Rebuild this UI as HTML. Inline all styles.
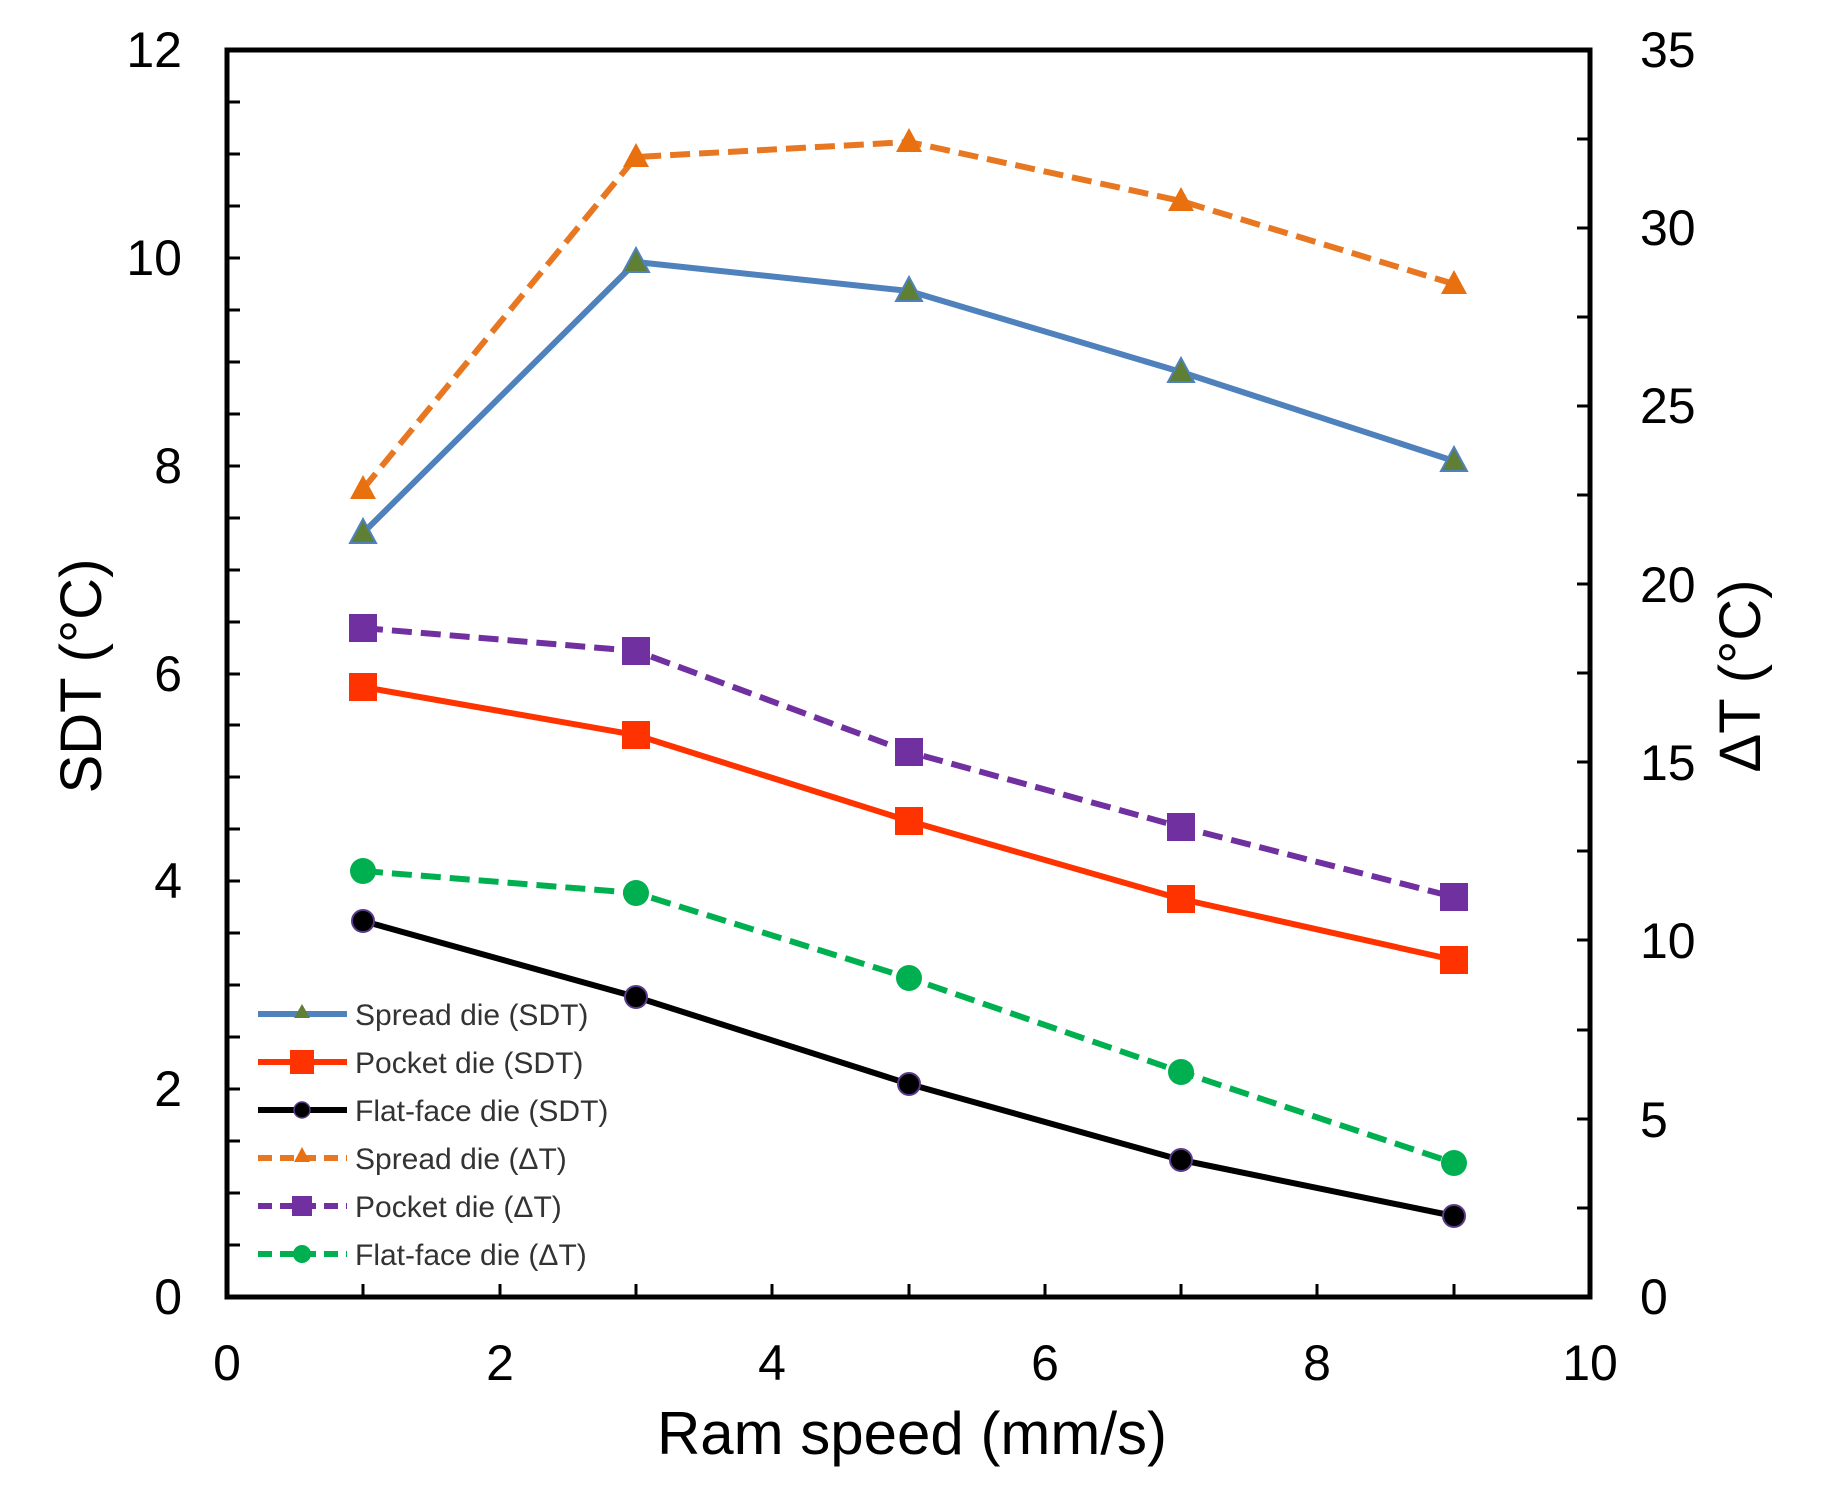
<!DOCTYPE html>
<html><head><meta charset="utf-8"><style>
html,body{margin:0;padding:0;background:#fff;}
svg{display:block;}
text{font-family:"Liberation Sans",Arial,sans-serif;}
</style></head><body>
<svg width="1833" height="1490" viewBox="0 0 1833 1490" xmlns="http://www.w3.org/2000/svg">
<defs>
<g id="tri"><polygon points="0,-14 13,10 -13,10"/></g>
</defs>
<g stroke="#000" stroke-width="3">
<path d="M227,102h13M227,154h13M227,206h13M227,258h13M227,310h13M227,362h13M227,414h13M227,466h13M227,518h13M227,570h13M227,622h13M227,674h13M227,725h13M227,777h13M227,829h13M227,881h13M227,933h13M227,985h13M227,1037h13M227,1089h13M227,1141h13M227,1193h13M227,1245h13"/>
<path d="M1590,139h-13M1590,228h-13M1590,317h-13M1590,406h-13M1590,495h-13M1590,584h-13M1590,673h-13M1590,762h-13M1590,851h-13M1590,940h-13M1590,1030h-13M1590,1119h-13M1590,1208h-13"/>
<path d="M363,1297v-13M500,1297v-13M636,1297v-13M772,1297v-13M909,1297v-13M1045,1297v-13M1181,1297v-13M1317,1297v-13M1454,1297v-13"/>
</g>
<rect x="227" y="50" width="1363" height="1247" fill="none" stroke="#000" stroke-width="5"/>
<g font-size="50" fill="#000" text-anchor="end">
<text x="182" y="67">12</text><text x="182" y="275">10</text><text x="182" y="483">8</text>
<text x="182" y="691">6</text><text x="182" y="898">4</text><text x="182" y="1106">2</text><text x="182" y="1314">0</text>
</g>
<g font-size="50" fill="#000" text-anchor="start">
<text x="1640" y="67">35</text><text x="1640" y="245">30</text><text x="1640" y="423">25</text>
<text x="1640" y="602">20</text><text x="1640" y="780">15</text><text x="1640" y="958">10</text>
<text x="1640" y="1137">5</text><text x="1640" y="1314">0</text>
</g>
<g font-size="50" fill="#000" text-anchor="middle">
<text x="227" y="1380">0</text><text x="500" y="1380">2</text><text x="772" y="1380">4</text>
<text x="1045" y="1380">6</text><text x="1317" y="1380">8</text><text x="1590" y="1380">10</text>
</g>
<text x="912" y="1454" font-size="60" text-anchor="middle">Ram speed (mm/s)</text>
<text transform="translate(101,676) rotate(-90)" font-size="58" text-anchor="middle">SDT (°C)</text>
<text transform="translate(1760,676) rotate(-90)" font-size="58" text-anchor="middle">ΔT (°C)</text>

<g fill="none" stroke-width="6" stroke-linejoin="round">
<polyline stroke="#e87722" stroke-dasharray="20 9" points="363,489 636,157 909,142 1181,201 1454,284"/>
<polyline stroke="#4f81bd" points="363,533 636,262 909,291 1181,372 1454,461"/>
<polyline stroke="#7030a0" stroke-dasharray="20 9" points="363,628 636,651 909,752 1181,827 1454,897"/>
<polyline stroke="#ff3300" points="363,687 636,735 909,821 1181,899 1454,960"/>
<polyline stroke="#00b050" stroke-dasharray="20 9" points="363,871 636,893 909,978 1181,1072 1454,1163"/>
<polyline stroke="#000" points="363,921 636,997 909,1084 1181,1160 1454,1216"/>
</g>
<g fill="#e8700f">
<use href="#tri" x="363" y="489"/><use href="#tri" x="636" y="157"/><use href="#tri" x="909" y="142"/><use href="#tri" x="1181" y="201"/><use href="#tri" x="1454" y="284"/>
</g>
<g fill="#5f7f35" stroke="#4f81bd" stroke-width="2">
<use href="#tri" x="363" y="533"/><use href="#tri" x="636" y="262"/><use href="#tri" x="909" y="291"/><use href="#tri" x="1181" y="372"/><use href="#tri" x="1454" y="461"/>
</g>
<g fill="#7030a0">
<rect x="349" y="614" width="28" height="28"/><rect x="622" y="637" width="28" height="28"/><rect x="895" y="738" width="28" height="28"/><rect x="1167" y="813" width="28" height="28"/><rect x="1440" y="883" width="28" height="28"/>
</g>
<g fill="#ff3300">
<rect x="349" y="673" width="28" height="28"/><rect x="622" y="721" width="28" height="28"/><rect x="895" y="807" width="28" height="28"/><rect x="1167" y="885" width="28" height="28"/><rect x="1440" y="946" width="28" height="28"/>
</g>
<g fill="#00b050">
<circle cx="363" cy="871" r="13"/><circle cx="636" cy="893" r="13"/><circle cx="909" cy="978" r="13"/><circle cx="1181" cy="1072" r="13"/><circle cx="1454" cy="1163" r="13"/>
</g>
<g fill="#000" stroke="#5a3a8a" stroke-width="2">
<circle cx="363" cy="921" r="11"/><circle cx="636" cy="997" r="11"/><circle cx="909" cy="1084" r="11"/><circle cx="1181" cy="1160" r="11"/><circle cx="1454" cy="1216" r="11"/>
</g>

<g stroke-width="6" fill="none">
<path d="M258,1014h89" stroke="#4f81bd"/>
<path d="M258,1062h89" stroke="#ff3300"/>
<path d="M258,1110h89" stroke="#000"/>
<path d="M258,1158h89" stroke="#e87722" stroke-dasharray="14 8"/>
<path d="M258,1206h89" stroke="#7030a0" stroke-dasharray="14 8"/>
<path d="M258,1254h89" stroke="#00b050" stroke-dasharray="14 8"/>
</g>
<polygon points="302,1004 310,1018 294,1018" fill="#5f7f35"/>
<rect x="290" y="1050" width="24" height="24" fill="#ff3300"/>
<circle cx="302" cy="1110" r="8" fill="#000" stroke="#5a3a8a" stroke-width="1.5"/>
<polygon points="302,1147 310,1162 294,1162" fill="#e8700f"/>
<rect x="292" y="1196" width="20" height="20" fill="#7030a0"/>
<circle cx="302" cy="1254" r="9" fill="#00b050"/>
<g font-size="30" fill="#333">
<text x="355" y="1025">Spread die (SDT)</text>
<text x="355" y="1073">Pocket die (SDT)</text>
<text x="355" y="1121">Flat-face die (SDT)</text>
<text x="355" y="1169">Spread die (ΔT)</text>
<text x="355" y="1217">Pocket die (ΔT)</text>
<text x="355" y="1265">Flat-face die (ΔT)</text>
</g>
</svg>
</body></html>
